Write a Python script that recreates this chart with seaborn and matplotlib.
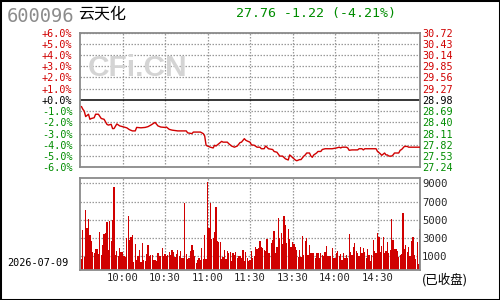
import matplotlib
matplotlib.use("Agg")
import matplotlib.pyplot as plt
import seaborn as sns
from matplotlib import font_manager
from matplotlib.patches import Rectangle

# ---------------- data ----------------
CODE = "600096"
NAME = "云天化"
QUOTE = "27.76 -1.22 (-4.21%)"
DATE = "2026-07-09"
STATUS = "(已收盘)"
WATERMARK = "CFi.CN"
PREV_CLOSE = 28.98

PCT_TICKS = [6, 5, 4, 3, 2, 1, 0, -1, -2, -3, -4, -5, -6]
PCT_LABELS = ["+6.0%", "+5.0%", "+4.0%", "+3.0%", "+2.0%", "+1.0%", "+0.0%",
              "-1.0%", "-2.0%", "-3.0%", "-4.0%", "-5.0%", "-6.0%"]
PRICE_LABELS = ["30.72", "30.43", "30.14", "29.85", "29.56", "29.27", "28.98",
                "28.69", "28.40", "28.11", "27.82", "27.53", "27.24"]
TIME_TICKS = [30, 60, 90, 120, 150, 180, 210]
TIME_LABELS = ["10:00", "10:30", "11:00", "11:30", "13:30", "14:00", "14:30"]
VOL_TICKS = [1000, 3000, 5000, 7000, 9000]
VOL_LABELS = ["1000", "3000", "5000", "7000", "9000"]

# minute index of the trading session (0 = 9:30, 120 = 11:30/13:00, 240 = 15:00)
price_minutes = [1, 2, 3, 4, 6, 7, 8, 10, 11, 13, 15, 17, 19, 20, 22, 23, 24, 26, 28, 30,
                 33, 35, 37, 39, 40, 43, 46, 48, 50, 53, 55, 57, 60,
                 61, 63, 65, 69, 75, 76, 79, 80, 85, 87, 88, 89, 90, 92, 94, 95, 96, 98,
                 100, 101, 104, 105, 107, 109, 111, 113, 114, 116, 117, 118, 120,
                 121, 123, 125, 127, 128, 130, 131, 132, 133, 136, 137, 139, 140, 141, 143,
                 145, 147, 148, 149, 151, 152, 153, 155, 156, 158, 159, 160, 162, 163, 164,
                 165, 167, 168, 170, 171, 173, 178, 181,
                 183, 184, 185, 188, 189, 190, 192, 196, 197, 199, 200, 201, 209, 210, 212,
                 213, 215, 216, 217, 218, 220, 221, 222, 225, 226, 227, 229, 231, 232, 240]
prices = [28.81, 28.74, 28.69, 28.55, 28.61, 28.48, 28.50, 28.52, 28.61, 28.61, 28.50, 28.48,
          28.35, 28.33, 28.35, 28.24, 28.24, 28.36, 28.31, 28.29,
          28.26, 28.21, 28.18, 28.18, 28.27, 28.26, 28.27, 28.29, 28.33, 28.40, 28.31, 28.28, 28.27,
          28.28, 28.22, 28.20, 28.18, 28.18, 28.13, 28.11, 28.15, 28.15, 28.11, 28.05, 27.81, 27.79,
          27.76, 27.74, 27.81, 27.79, 27.85,
          27.91, 27.89, 27.89, 27.85, 27.79, 27.76, 27.79, 27.88, 27.89, 27.98, 27.94, 27.92, 27.89,
          27.82, 27.81, 27.76, 27.76, 27.72, 27.72, 27.79, 27.76, 27.72, 27.70, 27.65, 27.63, 27.58,
          27.53, 27.53,
          27.46, 27.43, 27.56, 27.53, 27.46, 27.43, 27.41, 27.44, 27.44, 27.53, 27.56, 27.61, 27.61,
          27.53, 27.50,
          27.56, 27.61, 27.65, 27.65, 27.70, 27.72, 27.72, 27.74,
          27.76, 27.74, 27.76, 27.76, 27.74, 27.68, 27.69, 27.69, 27.72, 27.72, 27.69, 27.72, 27.72,
          27.65, 27.59,
          27.55, 27.61, 27.56, 27.56, 27.53, 27.53, 27.56, 27.61, 27.61, 27.68, 27.70, 27.78, 27.78,
          27.76, 27.76]

vol_0930 = [670, 3840, 900, 6060, 4090, 5080, 3300, 2670, 1470, 1330, 1800, 1800, 1250, 3660, 1110,
            2240, 3400, 3550, 4750, 1690, 4830, 2670, 4970, 8580, 1180, 1550, 1030, 1910, 1440, 1440,
            1030, 920, 3030, 5400, 2780, 3110, 3300, 380, 2340, 600, 1030, 1690, 380, 2450, 600,
            500, 1200, 2270, 1030, 1110, 1110, 600, 600, 500, 1350, 1030, 1000, 1900, 1030, 1250]
vol_1030 = [1030, 1180, 1470, 1110, 1690, 1470, 960, 1250, 1690, 1030, 1550, 850, 850, 6860, 1220,
            740, 810, 1580, 2240, 1690, 1030, 240, 600, 810, 600, 1940, 670, 3300, 740, 9120,
            4090, 6860, 2920, 3030, 3660, 6390, 2670, 2560, 2560, 740, 960, 1690, 740, 1550, 1330,
            1470, 450, 1330, 1110, 1470, 850, 1030, 1030, 850, 1690, 450, 1470, 850, 450, 600]
vol_1300 = [1580, 780, 1000, 2050, 1800, 1920, 2670, 2050, 1920, 1690, 1580, 2890, 1330, 1330, 2420,
            2780, 3770, 1330, 2050, 5220, 3030, 3510, 2310, 5440, 4420, 2420, 3990, 2890, 2050, 2530,
            2310, 2050, 1690, 960, 1690, 960, 3220, 1110, 2670, 3030, 1180, 2240, 1400, 1330, 1330,
            780, 1400, 1330, 850, 1330, 1110, 1030, 1470, 2160, 1030, 1030, 1030, 1920, 850, 850]
vol_1400 = [1330, 1580, 1000, 1250, 600, 1360, 780, 1110, 850, 3400, 1470, 1110, 2050, 2420, 1580,
            1330, 1000, 2000, 1400, 1920, 1470, 780, 1800, 1180, 490, 1180, 2780, 1580, 1400, 3510,
            3150, 1470, 2160, 3100, 1400, 1580, 2600, 1400, 1690, 5080, 2780, 1800, 1800, 1580, 960,
            1110, 1300, 5700, 1800, 2240, 1500, 2000, 1030, 2670, 3150, 1100, 700, 2530, 130, 3990]
volumes = vol_0930 + vol_1030 + vol_1300 + vol_1400
vol_minutes = list(range(1, len(volumes) + 1))

# ---------------- style ----------------
sns.set_theme(style="white")
available = {f.name for f in font_manager.fontManager.ttflist}
NARROW = "Liberation Sans Narrow" if "Liberation Sans Narrow" in available else "DejaVu Sans Mono"
plt.rcParams["font.family"] = [NARROW, "Noto Sans CJK SC", "DejaVu Sans"]

RED = "#d00000"
GREEN = "#008c00"
FRAME = "#8a8a8a"
GRID = "#9a9a9a"
LBL = 9.3 if NARROW != "DejaVu Sans Mono" else 7.3

W, H = 500, 300
fig = plt.figure(figsize=(5, 3), dpi=100)
fig.patch.set_facecolor("white")


def fx(px):
    return px / W


def fy(py):
    return 1 - py / H


ax1 = fig.add_axes([fx(80), fy(167.3), fx(340), (167.3 - 32.5) / H])
ax2 = fig.add_axes([fx(80), fy(270), fx(340), 92 / H])

lo = PREV_CLOSE * (1 + min(PCT_TICKS) / 100)
hi = PREV_CLOSE * (1 + max(PCT_TICKS) / 100)
price_ticks = [PREV_CLOSE * (1 + p / 100) for p in PCT_TICKS]

for ax in (ax1, ax2):
    ax.set_facecolor("white")
    ax.set_xlim(0, 240)
    for s in ax.spines.values():
        s.set_color(FRAME)
        s.set_linewidth(1.3)
    for t in TIME_TICKS:
        ax.axvline(t, color=GRID, lw=0.9, ls=(0, (1.2, 1.2)), zorder=0)

# top panel: price line
ax1.set_ylim(lo, hi)
for pt in price_ticks:
    if abs(pt - PREV_CLOSE) > 1e-9:
        ax1.axhline(pt, color=GRID, lw=0.9, ls=(0, (1.2, 1.2)), zorder=0)
ax1.axhline(PREV_CLOSE, color="black", lw=1.1, zorder=1)
ax1.text(0.17, 0.74, WATERMARK, transform=ax1.transAxes, ha="center", va="center",
         fontsize=21.5, fontweight="bold", color="#d4d4d4", family=["Liberation Sans", "DejaVu Sans"],
         zorder=0.5)
sns.lineplot(x=price_minutes, y=prices, ax=ax1, color=RED, lw=1.0, estimator=None,
             sort=False, zorder=3)
ax1.set_xticks(TIME_TICKS)
ax1.set_xticklabels([])
ax1.tick_params(axis="x", length=0)
ax1.set_yticks(price_ticks)
ax1.set_yticklabels(PCT_LABELS)
ax1.tick_params(axis="y", length=0, pad=5.5, labelsize=LBL)
ax1.set_xlabel("")
ax1.set_ylabel("")


def lab_color(p):
    return RED if p > 0 else (GREEN if p < 0 else "black")


for lab, p in zip(ax1.get_yticklabels(), PCT_TICKS):
    lab.set_color(lab_color(p))

ax1r = ax1.twinx()
ax1r.set_ylim(lo, hi)
ax1r.set_yticks(price_ticks)
ax1r.set_yticklabels(PRICE_LABELS)
ax1r.tick_params(axis="y", length=0, pad=1.5, labelsize=LBL)
ax1r.grid(False)
for s in ax1r.spines.values():
    s.set_visible(False)
for lab, p in zip(ax1r.get_yticklabels(), PCT_TICKS):
    lab.set_color(lab_color(p))

# bottom panel: volume bars
VOL_FLOOR, VOL_TOP = -500, 9580
ax2.set_ylim(VOL_FLOOR, VOL_TOP)
for v in VOL_TICKS:
    ax2.axhline(v, color=GRID, lw=0.9, ls=(0, (1.2, 1.2)), zorder=0)
ax2.bar(vol_minutes, [v - VOL_FLOOR for v in volumes], bottom=VOL_FLOOR, width=0.9,
        color=RED, linewidth=0, antialiased=False, zorder=2)
ax2.set_xticks(TIME_TICKS)
ax2.set_xticklabels(TIME_LABELS)
ax2.tick_params(axis="x", length=0, pad=2, labelsize=LBL + 0.3)
ax2.yaxis.tick_right()
ax2.set_yticks(VOL_TICKS)
ax2.set_yticklabels(VOL_LABELS)
ax2.tick_params(axis="y", length=0, pad=1.5, labelsize=LBL + 0.3)
ax2.grid(False)
ax1.grid(False)

# header and footer texts
fig.text(fx(7), fy(16.5), CODE, ha="left", va="center", fontsize=13.5, color="#8c8c8c",
         family=["DejaVu Sans Mono", "DejaVu Sans"])
fig.text(fx(78), fy(14.5), NAME, ha="left", va="center", fontsize=11.5, color="black",
         family=["Noto Sans CJK SC", "DejaVu Sans"])
fig.text(fx(236), fy(13), QUOTE, ha="left", va="center", fontsize=9.5, color=GREEN,
         family=["DejaVu Sans Mono", "DejaVu Sans"])
fig.text(fx(7), fy(263.3), DATE, ha="left", va="center", fontsize=LBL, color="black")
fig.text(fx(422), fy(280), STATUS, ha="left", va="center", fontsize=9, color="black",
         family=["Noto Sans CJK SC", "DejaVu Sans"])

fig.patches.append(Rectangle((0, 0), 1, 1, transform=fig.transFigure, fill=False,
                             edgecolor="black", lw=2.2))

fig.savefig("out.png", dpi=100, facecolor="white")
